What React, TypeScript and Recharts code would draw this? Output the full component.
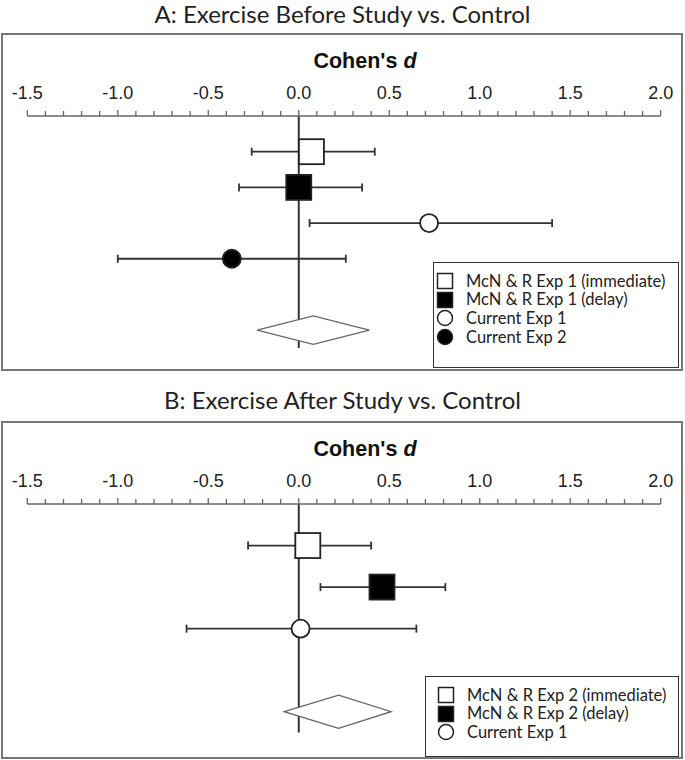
import React from "react";
import {
  ScatterChart,
  Scatter,
  XAxis,
  YAxis,
  ErrorBar,
  ReferenceLine,
  Legend,
} from "recharts";

// ── Axis ──
const majorTicks = [-1.5, -1.0, -0.5, 0.0, 0.5, 1.0, 1.5, 2.0];
const axisTicks: number[] = [];
majorTicks.forEach((t, i) => {
  axisTicks.push(t);
  if (i < majorTicks.length - 1) {
    for (let k = 1; k < 5; k++) axisTicks.push(+(t + k * 0.1).toFixed(2));
  }
});

// ── Panel A: Exercise before study ──
const labelsA = [
  "McN & R Exp 1 (immediate)",
  "McN & R Exp 1 (delay)",
  "Current Exp 1",
  "Current Exp 2",
];
const markersA = ["squareOpen", "squareFilled", "circleOpen", "circleFilled"];
const dA = [0.07, 0.0, 0.72, -0.37];
const loA = [-0.26, -0.33, 0.06, -1.0];
const hiA = [0.42, 0.35, 1.4, 0.26];
const pooledA = [-0.23, 0.08, 0.39]; // lower, estimate, upper

// ── Panel B: Exercise after study ──
const labelsB = [
  "McN & R Exp 2 (immediate)",
  "McN & R Exp 2 (delay)",
  "Current Exp 1",
];
const markersB = ["squareOpen", "squareFilled", "circleOpen"];
const dB = [0.05, 0.46, 0.01];
const loB = [-0.28, 0.12, -0.62];
const hiB = [0.4, 0.81, 0.65];
const pooledB = [-0.08, 0.22, 0.51];

const TITLE_FONT = "Lato, 'Open Sans', sans-serif";
const AXIS_FONT = "'Liberation Sans', Arial, sans-serif";

const Marker = ({ kind, cx, cy, legend = false }: any) => {
  const sq = legend ? 15 : 25;
  const r = legend ? 7.5 : 9;
  const sw = legend ? 1.5 : 1.8;
  if (kind === "squareOpen" || kind === "squareFilled")
    return (
      <rect
        x={cx - sq / 2}
        y={cy - sq / 2}
        width={sq}
        height={sq}
        fill={kind === "squareFilled" ? "#000" : "#fff"}
        stroke="#222"
        strokeWidth={sw}
      />
    );
  return (
    <circle
      cx={cx}
      cy={cy}
      r={r}
      fill={kind === "circleFilled" ? "#000" : "#fff"}
      stroke="#222"
      strokeWidth={sw}
    />
  );
};

const renderTick = (props: any) => {
  const { x, y, payload } = props;
  const v = payload.value;
  const major = Math.abs(v * 2 - Math.round(v * 2)) < 1e-6;
  return (
    <g>
      <line
        x1={x}
        x2={x}
        y1={y}
        y2={y - (major ? 6 : 5)}
        stroke="#666"
        strokeWidth={1.3}
      />
      {major && (
        <text
          x={x}
          y={y - 17}
          textAnchor="middle"
          fontFamily={AXIS_FONT}
          fontSize={18}
          fill="#222"
        >
          {v.toFixed(1)}
        </text>
      )}
    </g>
  );
};

const renderCohen = (props: any) => {
  const vb = props.viewBox || { x: 27, y: 8, width: 633, height: 75 };
  return (
    <text
      x={vb.x + vb.width / 2 + 21}
      y={vb.y + 27}
      textAnchor="middle"
      fontFamily={AXIS_FONT}
      fontSize={21.5}
      fontWeight="bold"
      fill="#111"
    >
      Cohen's <tspan fontStyle="italic">d</tspan>
    </text>
  );
};

const LegendBox = ({ labels, markers, width, height, padLeft }: any) => (
  <div
    style={{
      width,
      height,
      boxSizing: "border-box",
      border: "1.5px solid #333",
      background: "#fff",
      paddingTop: 8.5,
      paddingLeft: padLeft,
      fontFamily: TITLE_FONT,
      fontSize: 16.5,
      lineHeight: "18.8px",
      color: "#222",
    }}
  >
    {labels.map((l: string, i: number) => (
      <div
        key={l}
        style={{ display: "flex", alignItems: "center", height: 18.8 }}
      >
        <svg width={20} height={18} style={{ marginRight: 11 }}>
          <Marker kind={markers[i]} cx={10} cy={9} legend />
        </svg>
        <span style={{ whiteSpace: "nowrap" }}>{l}</span>
      </div>
    ))}
  </div>
);

const Panel = ({
  title,
  titleTop,
  top,
  labels,
  markers,
  d,
  lo,
  hi,
  pooled,
  rowMax,
  marginBottom,
  legendBox,
}: any) => {
  const diamondRow = rowMax - 0.5;
  const diamond = [
    { x: pooled[0], row: diamondRow },
    { x: pooled[1], row: diamondRow - 0.4 },
    { x: pooled[2], row: diamondRow },
    { x: pooled[1], row: diamondRow + 0.4 },
  ];
  return (
    <>
      <div
        style={{
          position: "absolute",
          left: 0,
          top: titleTop,
          width: 685,
          textAlign: "center",
          fontFamily: TITLE_FONT,
          fontSize: 24,
          lineHeight: "24px",
          color: "#222",
        }}
      >
        {title}
      </div>
      <div
        style={{
          position: "absolute",
          left: 1,
          top,
          width: 682,
          height: 338,
          boxSizing: "border-box",
          border: "2px solid #777",
        }}
      />
      <div style={{ position: "absolute", left: 0, top }}>
        <ScatterChart
          width={685}
          height={338}
          margin={{ top: 8, right: 24.3, bottom: marginBottom, left: 27.3 }}
        >
          <XAxis
            type="number"
            dataKey="x"
            orientation="top"
            domain={[-1.5, 2]}
            ticks={axisTicks}
            interval={0}
            tickSize={0}
            tickMargin={0}
            tickLine={false}
            tick={renderTick}
            height={75}
            axisLine={{ stroke: "#666", strokeWidth: 1.5 }}
            allowDataOverflow
            label={renderCohen}
          />
          <YAxis
            type="number"
            dataKey="row"
            domain={[0, rowMax]}
            reversed
            hide
            allowDataOverflow
          />
          <ReferenceLine x={0} stroke="#333" strokeWidth={2} />
          {labels.map((l: string, i: number) => (
            <Scatter
              key={l}
              name={l}
              data={[
                { x: d[i], row: i + 1, err: [d[i] - lo[i], hi[i] - d[i]] },
              ]}
              isAnimationActive={false}
              shape={(p: any) => <Marker kind={markers[i]} cx={p.cx} cy={p.cy} />}
            >
              <ErrorBar
                dataKey="err"
                direction="x"
                width={4}
                stroke="#333"
                strokeWidth={1.8}
              />
            </Scatter>
          ))}
          <Scatter
            name="pooled"
            data={diamond}
            isAnimationActive={false}
            shape={() => <g />}
            line={(lp: any) => {
              const pts = lp.points || [];
              const dPath =
                "M" + pts.map((p: any) => `${p.x},${p.y}`).join("L") + "Z";
              return (
                <path d={dPath} fill="#fff" stroke="#666" strokeWidth={1.3} />
              );
            }}
          />
          <Legend
            layout="vertical"
            align="center"
            verticalAlign="middle"
            wrapperStyle={{
              left: legendBox.left,
              top: legendBox.top,
              width: legendBox.width,
              height: legendBox.height,
            }}
            content={() => (
              <LegendBox
                labels={labels}
                markers={markers}
                width={legendBox.width}
                height={legendBox.height}
                padLeft={legendBox.padLeft}
              />
            )}
          />
        </ScatterChart>
      </div>
    </>
  );
};

export default function App() {
  return (
    <div
      style={{
        position: "absolute",
        left: 0,
        top: 0,
        width: 685,
        height: 760,
        background: "#fff",
      }}
    >
      <Panel
        title="A: Exercise Before Study vs. Control"
        titleTop={2}
        top={33}
        labels={labelsA}
        markers={markersA}
        d={dA}
        lo={loA}
        hi={hiA}
        pooled={pooledA}
        rowMax={6.5}
        marginBottom={23}
        legendBox={{ left: 433, top: 229, width: 246, height: 106, padLeft: 1 }}
      />
      <Panel
        title="B: Exercise After Study vs. Control"
        titleTop={388}
        top={421}
        labels={labelsB}
        markers={markersB}
        d={dB}
        lo={loB}
        hi={hiB}
        pooled={pooledB}
        rowMax={5.5}
        marginBottom={26.5}
        legendBox={{ left: 425, top: 255, width: 254, height: 81, padLeft: 10 }}
      />
    </div>
  );
}
